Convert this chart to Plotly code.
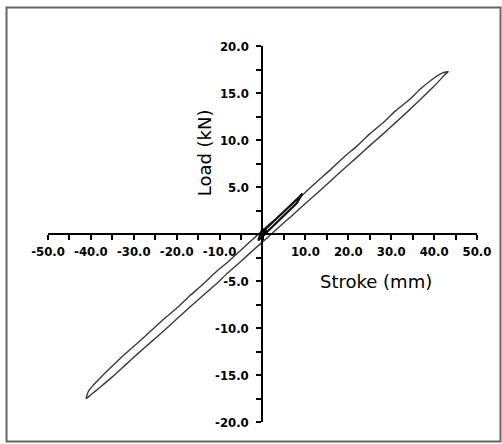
import plotly.graph_objects as go

# Load-stroke hysteresis loop
upper_x = [43.3, 42, 40, 37, 34, 31, 28, 25, 22, 19, 16, 13, 10, 7, 4, 1, -2, -5, -8, -11, -14, -17, -20,
           -23, -26, -29, -32, -35, -37.5, -39.5, -40.6, -41.1]
upper_y = [17.27, 17.15, 16.6, 15.5, 14.2, 13.1, 11.8, 10.65, 9.35, 8.2, 6.9, 5.7, 4.45, 3.25, 1.95, 0.8,
           -0.45, -1.7, -2.95, -4.1, -5.4, -6.6, -7.9, -9.05, -10.3, -11.55, -12.75, -14.05, -15.15,
           -16.1, -16.75, -17.5]
lower_x = [-41.1, -40, -38, -35, -32, -29, -26, -23, -20, -17, -14, -11, -8, -5, -2, 1, 4, 7, 10, 13, 16,
           19, 22, 25, 28, 31, 34, 37, 39.5, 41.5, 42.6, 43.3]
lower_y = [-17.5, -17.1, -16.35, -15.2, -13.95, -12.7, -11.5, -10.3, -9.05, -7.8, -6.6, -5.4, -4.1, -2.9,
           -1.65, -0.45, 0.8, 2.0, 3.25, 4.45, 5.7, 6.95, 8.15, 9.4, 10.6, 11.85, 13.1, 14.4, 15.5,
           16.45, 17.0, 17.27]
inner_x = [-1.0, 2, 5, 8, 9.3, 8.5, 5, 2, -0.5, -1.0]
inner_y = [-0.7, 0.6, 1.9, 3.3, 4.3, 3.9, 2.4, 1.1, 0.0, -0.7]
blob_x = [0.3]
blob_y = [0.2]

x_ticks = [-50, -40, -30, -20, -10, 0, 10, 20, 30, 40, 50]
x_text = ["-50.0", "-40.0", "-30.0", "-20.0", "-10.0", "", "10.0", "20.0", "30.0", "40.0", "50.0"]
y_ticks = [-20, -15, -10, -5, 0, 5, 10, 15, 20]
y_text = ["-20.0", "-15.0", "-10.0", "-5.0", "", "5.0", "10.0", "15.0", "20.0"]

loop_x = upper_x + lower_x[1:]
loop_y = upper_y + lower_y[1:]

fig = go.Figure()
fig.add_trace(go.Scatter(x=loop_x, y=loop_y, mode="lines",
                         line=dict(color="#3a3a3a", width=1.4, shape="spline", smoothing=0.6),
                         showlegend=False, hoverinfo="skip"))
fig.add_trace(go.Scatter(x=inner_x, y=inner_y, mode="lines",
                         line=dict(color="#111111", width=2.2),
                         showlegend=False, hoverinfo="skip"))
fig.add_trace(go.Scatter(x=blob_x, y=blob_y, mode="markers",
                         marker=dict(color="#000000", size=7),
                         showlegend=False, hoverinfo="skip"))

tick_font = dict(family="DejaVu Sans Condensed, DejaVu Sans", size=13, color="black", weight="bold")
title_font = dict(family="DejaVu Sans", size=18, color="black")

fig.update_layout(
    width=502, height=444,
    margin=dict(l=48, r=25, t=46, b=22),
    paper_bgcolor="white", plot_bgcolor="white",
    xaxis=dict(range=[-50, 50], anchor="free", position=0.5, showgrid=False, zeroline=False,
               showline=True, linecolor="black", linewidth=2,
               tickmode="array", tickvals=x_ticks, ticktext=x_text,
               ticks="outside", ticklen=5, tickwidth=1.5, tickcolor="black",
               minor=dict(dtick=5, tick0=0, ticks="outside", ticklen=5, tickwidth=1.5, tickcolor="black"),
               tickfont=tick_font, automargin=False, fixedrange=True),
    yaxis=dict(range=[-20, 20], anchor="free", position=0.4997, showgrid=False, zeroline=False,
               showline=True, linecolor="black", linewidth=2,
               tickmode="array", tickvals=y_ticks, ticktext=y_text,
               ticks="outside", ticklen=5, tickwidth=1.5, tickcolor="black",
               minor=dict(dtick=2.5, tick0=0, ticks="outside", ticklen=5, tickwidth=1.5, tickcolor="black"),
               tickfont=tick_font, automargin=False, fixedrange=True, ticklabelstandoff=5),
    annotations=[
        dict(text="Stroke (mm)", x=26.5, y=-5.1, xref="x", yref="y", showarrow=False, font=title_font),
        dict(text="Load (kN)", x=-13.6, y=8.6, xref="x", yref="y", showarrow=False, textangle=-90,
             font=title_font),
    ],
    shapes=[dict(type="rect", xref="paper", yref="paper", x0=-0.0967, x1=1.0548, y0=-0.0519, y1=1.1024,
                 line=dict(color="#666666", width=2), layer="below")],
)

fig.write_html("out.html")
